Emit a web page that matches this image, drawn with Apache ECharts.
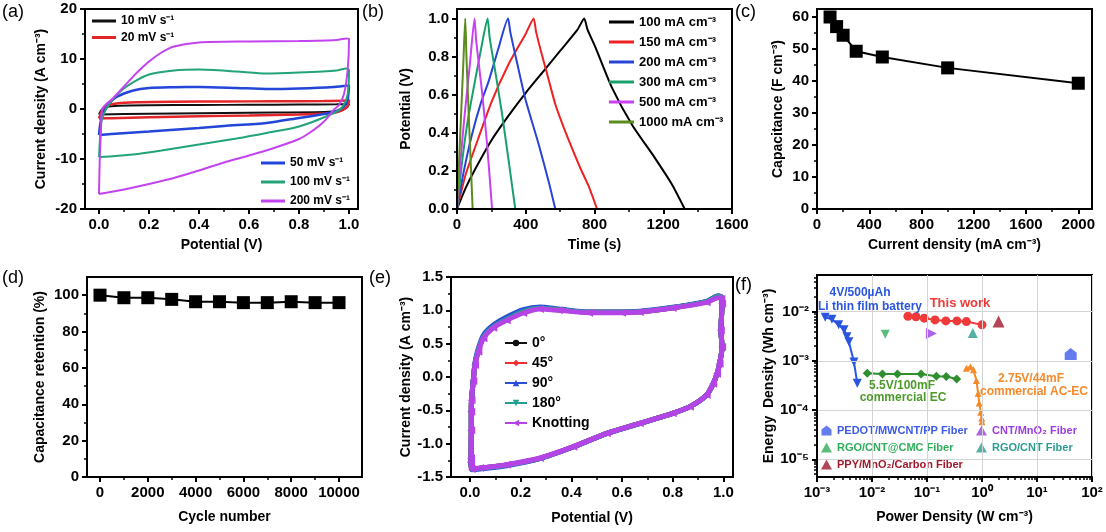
<!DOCTYPE html>
<html><head><meta charset="utf-8">
<script src="https://cdn.jsdelivr.net/npm/echarts@6/dist/echarts.min.js"></script>
<style>html,body{margin:0;padding:0;background:#fff}#c{width:1106px;height:532px}</style>
</head><body><div id="c"></div>
<script>
const FONT = '"Liberation Sans", Arial, sans-serif';

// ---------- (a) CV at different scan rates: [V, A cm-3] ----------
const cv10 = [[0,-1.1],[0.01,-0.2],[0.03,0.4],[0.08,0.65],[0.2,0.75],[0.4,0.8],[0.6,0.85],[0.8,0.9],[0.95,0.95],[1.0,1.0],[0.99,0.2],[0.96,-0.4],[0.9,-0.6],[0.7,-0.7],[0.5,-0.8],[0.3,-0.9],[0.1,-1.0],[0,-1.1]];
const cv20 = [[0,-1.9],[0.01,-0.6],[0.03,0.6],[0.07,1.1],[0.15,1.35],[0.3,1.45],[0.5,1.5],[0.7,1.55],[0.9,1.6],[0.99,1.7],[1.0,1.8],[0.995,0.6],[0.97,-0.3],[0.93,-0.8],[0.8,-1.1],[0.6,-1.3],[0.4,-1.45],[0.2,-1.65],[0.05,-1.85],[0,-1.9]];
const cv50 = [[0,-5.2],[0.005,-3],[0.015,-1],[0.04,1],[0.07,2.4],[0.137,3.7],[0.2,4.2],[0.3,4.35],[0.4,4.4],[0.55,4.2],[0.67,4.0],[0.8,4.1],[0.94,4.4],[1.0,4.7],[0.995,2],[0.98,0.5],[0.95,-0.4],[0.9,-1.0],[0.8,-1.8],[0.67,-2.8],[0.5,-3.4],[0.4,-3.8],[0.2,-4.5],[0.05,-5.0],[0,-5.2]];
const cv100 = [[0,-9.6],[0.004,-6],[0.012,-2],[0.044,1.2],[0.11,4.5],[0.2,6.9],[0.3,7.7],[0.4,7.9],[0.55,7.5],[0.67,7.1],[0.8,7.3],[0.95,7.7],[0.99,8.1],[1.0,7.8],[0.995,3],[0.975,0.5],[0.94,-0.8],[0.8,-3.5],[0.67,-4.8],[0.55,-5.9],[0.4,-7.1],[0.25,-8.3],[0.137,-9.1],[0.04,-9.5],[0,-9.6]];
const cv200 = [[0,-17],[0.003,-10],[0.008,-4],[0.013,0],[0.053,2.0],[0.1,4.5],[0.15,7.2],[0.2,9.5],[0.25,11.3],[0.3,12.5],[0.4,13.3],[0.6,13.5],[0.8,13.6],[0.95,13.8],[0.99,14.1],[1.0,14.0],[0.995,8],[0.98,3],[0.96,0.8],[0.94,-0.1],[0.9,-2.5],[0.85,-4.5],[0.8,-6],[0.7,-7.8],[0.6,-9.3],[0.5,-10.7],[0.4,-12.3],[0.3,-13.8],[0.2,-15],[0.1,-16.1],[0,-17]];

// ---------- (b) GCD: [s, V] ----------
const gcd100 = [[0,0],[50,0.11],[100,0.2],[200,0.36],[300,0.49],[400,0.61],[500,0.72],[600,0.83],[700,0.94],[740,1.0],[760,0.94],[805,0.85],[900,0.64],[1020,0.44],[1150,0.27],[1250,0.13],[1325,0]];
const gcd150 = [[0,0],[50,0.18],[100,0.31],[200,0.56],[300,0.76],[400,0.92],[446,1.0],[460,0.93],[494,0.81],[530,0.69],[572,0.55],[620,0.43],[669,0.32],[720,0.21],[766,0.12],[815,0]];
const gcd200 = [[0,0],[40,0.2],[87,0.39],[140,0.56],[184,0.67],[240,0.84],[297,1.0],[310,0.93],[339,0.81],[397,0.58],[475,0.34],[533,0.145],[572,0]];
const gcd300 = [[0,0],[30,0.25],[60,0.45],[100,0.65],[140,0.84],[178,1.0],[190,0.9],[223,0.72],[262,0.5],[301,0.25],[339,0]];
const gcd500 = [[0,0],[20,0.25],[45,0.5],[75,0.76],[102,1.0],[112,0.88],[145,0.62],[175,0.34],[204,0]];
const gcd1000 = [[0,0],[12,0.25],[25,0.52],[37,0.77],[48,1.0],[55,0.8],[68,0.5],[80,0.24],[91,0]];

// ---------- (c) capacitance vs current density ----------
const capCurrent = [100,150,200,300,500,1000,2000];
const capValue = [60,57,54.3,49.3,47.5,44.1,39.3];

// ---------- (d) cycling ----------
const cycles = [0,1000,2000,3000,4000,5000,6000,7000,8000,9000,10000];
const retention = [100,98.6,98.6,97.7,96.4,96.4,95.9,95.9,96.4,95.9,95.9];

// ---------- (e) CV under bending: [V, A cm-3] ----------
const eLoopBase = [[0.004,-1.30],[0.004,-1.22],[0.005,-0.8],[0.005,-0.55],[0.006,-0.35],[0.013,-0.05],[0.02,0.2],[0.033,0.4],[0.053,0.6],[0.092,0.75],[0.145,0.865],[0.21,0.98],[0.276,1.03],[0.35,1.01],[0.47,0.97],[0.6,0.97],[0.67,0.98],[0.8,1.04],[0.934,1.13],[0.98,1.21],[0.992,1.2],[0.995,1.1],[0.99,0.7],[0.995,0.45],[0.985,0.2],[0.975,0.05],[0.96,-0.1],[0.934,-0.27],[0.868,-0.445],[0.8,-0.545],[0.67,-0.695],[0.54,-0.845],[0.408,-1.045],[0.276,-1.22],[0.145,-1.32],[0.04,-1.37],[0.007,-1.385],[0.004,-1.30]];
const eLoop90 = [[0.004,-1.30],[0.004,-1.22],[0.005,-0.8],[0.005,-0.55],[0.006,-0.35],[0.013,-0.04],[0.02,0.22],[0.033,0.43],[0.053,0.63],[0.092,0.78],[0.145,0.9],[0.21,1.01],[0.276,1.05],[0.35,1.02],[0.47,0.975],[0.6,0.975],[0.67,0.985],[0.8,1.045],[0.934,1.135],[0.98,1.22],[0.992,1.2],[0.995,1.1],[0.99,0.7],[0.995,0.45],[0.985,0.2],[0.975,0.05],[0.96,-0.1],[0.934,-0.27],[0.868,-0.445],[0.8,-0.545],[0.67,-0.7],[0.54,-0.85],[0.408,-1.05],[0.276,-1.225],[0.145,-1.33],[0.04,-1.38],[0.007,-1.39],[0.004,-1.30]];
const eLoopKnot = [[0.004,-1.28],[0.004,-1.22],[0.005,-0.8],[0.005,-0.52],[0.006,-0.35],[0.013,-0.06],[0.02,0.18],[0.033,0.38],[0.053,0.58],[0.092,0.74],[0.145,0.85],[0.21,0.96],[0.276,1.02],[0.35,1.0],[0.47,0.965],[0.6,0.965],[0.67,0.975],[0.8,1.035],[0.934,1.12],[0.98,1.19],[0.992,1.17],[0.995,1.1],[0.99,0.7],[0.995,0.45],[0.985,0.2],[0.975,0.05],[0.96,-0.1],[0.934,-0.27],[0.868,-0.445],[0.8,-0.545],[0.67,-0.695],[0.54,-0.845],[0.408,-1.045],[0.276,-1.215],[0.145,-1.315],[0.04,-1.365],[0.007,-1.38],[0.004,-1.28]];

// ---------- (f) Ragone plot: [W cm-3, Wh cm-3] ----------
const batteryP = [1.41e-3,1.87e-3,2.48e-3,3.1e-3,3.5e-3,3.8e-3,4.7e-3,5.4e-3];
const batteryE = [7.7e-3,7.0e-3,5.4e-3,4.3e-3,3.1e-3,2.45e-3,9.5e-4,3.5e-4];
const thisWorkP = [0.045,0.063,0.089,0.14,0.22,0.35,0.52,1.0];
const thisWorkE = [8.1e-3,7.9e-3,7.4e-3,6.8e-3,6.5e-3,6.5e-3,6.3e-3,5.4e-3];
const ecP = [0.0082,0.0155,0.029,0.078,0.148,0.224,0.347];
const ecE = [5.6e-4,5.4e-4,5.4e-4,5.4e-4,4.9e-4,4.8e-4,4.3e-4];
const acP = [0.52,0.62,0.70,0.79,0.85,0.89,0.95,0.99,1.0];
const acE = [7.1e-4,7.6e-4,6.6e-4,4.0e-4,2.2e-4,1.4e-4,9e-5,6.8e-5,5.8e-5];
const pedotPt = [41, 1.38e-3];
const cntMnPt = [0.12, 3.6e-3];
const rgoCmcPt = [0.0174, 3.5e-3];
const rgoCntPt = [0.68, 3.7e-3];
const ppyPt = [2.0, 6.3e-3];

// ---------- tick labels ----------
const ticksA_x = [0,0.2,0.4,0.6,0.8,1.0], minorA_x = [0.1,0.3,0.5,0.7,0.9];
const ticksA_y = [-20,-10,0,10,20], minorA_y = [-15,-5,5,15];
const ticksB_x = [0,400,800,1200,1600], minorB_x = [200,600,1000,1400];
const ticksB_y = [0,0.2,0.4,0.6,0.8,1.0], minorB_y = [0.1,0.3,0.5,0.7,0.9];
const ticksC_x = [0,400,800,1200,1600,2000], minorC_x = [200,600,1000,1400,1800];
const ticksC_y = [0,10,20,30,40,50,60], minorC_y = [5,15,25,35,45,55];
const ticksD_x = [0,2000,4000,6000,8000,10000], minorD_x = [1000,3000,5000,7000,9000];
const ticksD_y = [0,20,40,60,80,100], minorD_y = [10,30,50,70,90];
const ticksE_x = [0,0.2,0.4,0.6,0.8,1.0], minorE_x = [0.1,0.3,0.5,0.7,0.9];
const ticksE_y = [-1.5,-1.0,-0.5,0,0.5,1.0,1.5], minorE_y = [-1.25,-0.75,-0.25,0.25,0.75,1.25];
const ticksF_x = [1e-3,1e-2,1e-1,1e0,1e1,1e2];
const ticksF_y = [1e-5,1e-4,1e-3,1e-2];

const SUP = {'-':'⁻','0':'⁰','1':'¹','2':'²','3':'³','4':'⁴','5':'⁵','6':'⁶','7':'⁷','8':'⁸','9':'⁹'};
function pow10Label(v){ const e = Math.round(Math.log10(v)); return '10' + String(e).split('').map(c=>SUP[c]).join(''); }
function logMinor(lo, hi){ const out=[]; for(let e=lo;e<hi;e++){ for(let k=2;k<10;k++) out.push(k*Math.pow(10,e)); } return out; }

function axisPair(gi, dim, cfg){
  const pos = dim==='x' ? 'bottom' : 'left';
  const type = cfg.type || 'value';
  const major = {
    gridIndex: gi, type, min: cfg.min, max: cfg.max, position: pos,
    axisLine: {show:true, onZero:false, lineStyle:{color:'#000', width:2}},
    axisTick: {show:true, inside:false, length:5, customValues: cfg.ticks, lineStyle:{color:'#000', width:2}},
    axisLabel: {show:true, customValues: cfg.ticks, formatter: cfg.fmt, color:'#000', fontSize:15, fontWeight:'bold', fontFamily: FONT, margin: cfg.margin || 8},
    splitLine: cfg.split ? {show:true, lineStyle:{color:'#d4d4d4', width:1}} : {show:false},
    name: cfg.name, nameLocation:'middle', nameGap: cfg.nameGap,
    nameTextStyle: {color:'#000', fontSize:14, fontWeight:'bold', fontFamily: FONT},
    z: 5
  };
  const minor = {
    gridIndex: gi, type, min: cfg.min, max: cfg.max, position: pos,
    axisLine: {show:false, onZero:false},
    axisTick: {show:true, inside:false, length:3, customValues: cfg.minor, lineStyle:{color:'#000', width:1.5}},
    axisLabel: {show:false}, splitLine: {show:false}
  };
  return [major, minor];
}
const f1 = v => v.toFixed(1);
const f0 = v => String(Math.round(v));

const grids = [
  {left:85, top:9, width:273, height:200},
  {left:457, top:9, width:275, height:200},
  {left:817, top:9, width:275, height:200},
  {left:87, top:277, width:275, height:200},
  {left:451, top:277, width:282, height:200},
  {left:817, top:275, width:275, height:202}
].map(g => Object.assign(g, {show:true, borderColor:'#000', borderWidth:2, backgroundColor:'transparent'}));

const xAxes = [].concat(
  axisPair(0,'x',{min:-0.056,max:1.036,ticks:ticksA_x,minor:minorA_x,fmt:f1,name:'Potential (V)',nameGap:29}),
  axisPair(1,'x',{min:0,max:1600,ticks:ticksB_x,minor:minorB_x,fmt:f0,name:'Time (s)',nameGap:29}),
  axisPair(2,'x',{min:0,max:2105,ticks:ticksC_x,minor:minorC_x,fmt:f0,name:'Current density (mA cm⁻³)',nameGap:29}),
  axisPair(3,'x',{min:-544,max:10962,ticks:ticksD_x,minor:minorD_x,fmt:f0,name:'Cycle number',nameGap:33}),
  axisPair(4,'x',{min:-0.075,max:1.038,ticks:ticksE_x,minor:minorE_x,fmt:f1,name:'Potential (V)',nameGap:34}),
  axisPair(5,'x',{type:'log',min:1e-3,max:1e2,ticks:ticksF_x,minor:logMinor(-3,2),fmt:pow10Label,name:'Power Density (W cm⁻³)',nameGap:33,split:true})
);
const yAxes = [].concat(
  axisPair(0,'y',{min:-20,max:20,ticks:ticksA_y,minor:minorA_y,fmt:f0,name:'Current density (A cm⁻³)',nameGap:37}),
  axisPair(1,'y',{min:0,max:1.05,ticks:ticksB_y,minor:minorB_y,fmt:f1,name:'Potential (V)',nameGap:44}),
  axisPair(2,'y',{min:0,max:62.5,ticks:ticksC_y,minor:minorC_y,fmt:f0,name:'Capacitance (F cm⁻³)',nameGap:32}),
  axisPair(3,'y',{min:0,max:110,ticks:ticksD_y,minor:minorD_y,fmt:f0,name:'Capacitance retention (%)',nameGap:40}),
  axisPair(4,'y',{min:-1.5,max:1.5,ticks:ticksE_y,minor:minorE_y,fmt:f1,name:'Current density (A cm⁻³)',nameGap:36}),
  axisPair(5,'y',{type:'log',min:Math.pow(10,-5.36),max:Math.pow(10,-1.254),ticks:ticksF_y,minor:logMinor(-6,-1),fmt:pow10Label,name:'Energy  Density (Wh cm⁻³)',nameGap:40,split:true})
);

const zip = (xs, ys) => xs.map((x,i)=>[x, ys[i]]);
function line(gi, name, data, color, extra){
  return Object.assign({type:'line', name, xAxisIndex:2*gi, yAxisIndex:2*gi, data,
    showSymbol:false, symbol:'none', smooth:0.25, lineStyle:{color, width:2}, itemStyle:{color}, z:3}, extra||{});
}

const series = [
  line(0,'10 mV s⁻¹',cv10,'#111111'),
  line(0,'20 mV s⁻¹',cv20,'#e3262a',{lineStyle:{color:'#e3262a',width:2.5}}),
  line(0,'50 mV s⁻¹',cv50,'#2346d8',{lineStyle:{color:'#2346d8',width:2.5}}),
  line(0,'100 mV s⁻¹',cv100,'#22a37a'),
  line(0,'200 mV s⁻¹',cv200,'#c443f0'),

  line(1,'100 mA cm⁻³',gcd100,'#000000',{smooth:0.2}),
  line(1,'150 mA cm⁻³',gcd150,'#ee2222',{smooth:0.2}),
  line(1,'200 mA cm⁻³',gcd200,'#2744d6',{smooth:0.2}),
  line(1,'300 mA cm⁻³',gcd300,'#17a06c',{smooth:0.2}),
  line(1,'500 mA cm⁻³',gcd500,'#c940f0',{smooth:0.2}),
  line(1,'1000 mA cm⁻³',gcd1000,'#5b8c1e',{smooth:0.2}),

  line(2,'cap',zip(capCurrent,capValue),'#000',{smooth:false,showSymbol:true,symbol:'rect',symbolSize:13}),
  line(3,'ret',zip(cycles,retention),'#000',{smooth:false,showSymbol:true,symbol:'rect',symbolSize:13}),

  line(4,'0°',eLoopBase,'#111111',{symbol:'circle',symbolSize:7,lineStyle:{color:'#111',width:5}}),
  line(4,'45°',eLoopBase,'#f03030',{symbol:'diamond',symbolSize:8,lineStyle:{color:'#f03030',width:5}}),
  line(4,'90°',eLoop90,'#2850d8',{symbol:'triangle',symbolSize:8,lineStyle:{color:'#2850d8',width:5}}),
  line(4,'180°',eLoopBase,'#20a090',{symbol:'triangle',symbolRotate:180,symbolSize:8,lineStyle:{color:'#20a090',width:5}}),
  line(4,'Knotting',eLoopKnot,'#b444e6',{symbol:'triangle',symbolRotate:90,symbolSize:8,showSymbol:true,lineStyle:{color:'#b444e6',width:5},z:4}),

  line(5,'battery',zip(batteryP,batteryE),'#2a55e0',{smooth:false,showSymbol:true,symbol:'triangle',symbolRotate:180,symbolSize:9}),
  line(5,'This work',zip(thisWorkP,thisWorkE),'#f03a3a',{smooth:false,showSymbol:true,symbol:'circle',symbolSize:9}),
  line(5,'EC',zip(ecP,ecE),'#2f8f2f',{smooth:false,showSymbol:true,symbol:'diamond',symbolSize:9}),
  line(5,'AC-EC',zip(acP,acE),'#f58a2a',{smooth:false,showSymbol:true,symbol:'triangle',symbolSize:7}),
  {type:'scatter',name:'PEDOT/MWCNT/PP Fiber',xAxisIndex:10,yAxisIndex:10,data:[pedotPt],symbol:'path://M0,4 L5,0 L10,4 L10,10 L0,10 Z',symbolSize:12,itemStyle:{color:'#3d5be8'}},
  {type:'scatter',name:'CNT/MnO₂ Fiber',xAxisIndex:10,yAxisIndex:10,data:[cntMnPt],symbol:'triangle',symbolRotate:-90,symbolSize:11,itemStyle:{color:'#9a3de0'}},
  {type:'scatter',name:'RGO/CNT@CMC Fiber',xAxisIndex:10,yAxisIndex:10,data:[rgoCmcPt],symbol:'triangle',symbolRotate:180,symbolSize:9,itemStyle:{color:'#2fae5a'}},
  {type:'scatter',name:'RGO/CNT Fiber',xAxisIndex:10,yAxisIndex:10,data:[rgoCntPt],symbol:'triangle',symbolSize:10,itemStyle:{color:'#2a9d8f'}},
  {type:'scatter',name:'PPY/MnO₂/Carbon Fiber',xAxisIndex:10,yAxisIndex:10,data:[ppyPt],symbol:'triangle',symbolSize:12,itemStyle:{color:'#a0182c'}}
];

const legTxt = (size) => ({color:'#000', fontSize:size, fontWeight:'bold', fontFamily:FONT, lineHeight:14});
const legends = [
  {data:['10 mV s⁻¹','20 mV s⁻¹'], left:92, top:14, orient:'vertical', itemGap:2.5, itemWidth:24, itemHeight:3, icon:'rect', textStyle:legTxt(12)},
  {data:['50 mV s⁻¹','100 mV s⁻¹','200 mV s⁻¹'], left:261, top:156, orient:'vertical', itemGap:5, itemWidth:24, itemHeight:3, icon:'rect', textStyle:legTxt(12)},
  {data:['100 mA cm⁻³','150 mA cm⁻³','200 mA cm⁻³','300 mA cm⁻³','500 mA cm⁻³','1000 mA cm⁻³'], left:609, top:15, orient:'vertical', itemGap:6, itemWidth:25, itemHeight:3, icon:'rect', textStyle:legTxt(13)},
  {data:['0°','45°','90°','180°','Knotting'], left:504, top:336, orient:'vertical', itemGap:6, itemWidth:22, itemHeight:8, textStyle:legTxt(14)},
  {data:[{name:'PEDOT/MWCNT/PP Fiber',textStyle:{color:'#3d5be8'}},{name:'RGO/CNT@CMC Fiber',textStyle:{color:'#2fae5a'}},{name:'PPY/MnO₂/Carbon Fiber',textStyle:{color:'#a0182c'}}], left:821, top:424, orient:'vertical', itemGap:4, itemWidth:11, itemHeight:10, textStyle:{fontSize:11, fontWeight:'bold', fontFamily:FONT, lineHeight:13}},
  {data:[{name:'CNT/MnO₂ Fiber',textStyle:{color:'#9a3de0'}},{name:'RGO/CNT Fiber',textStyle:{color:'#2a9d8f'}}], left:976, top:424, orient:'vertical', itemGap:4, itemWidth:11, itemHeight:10, textStyle:{fontSize:11, fontWeight:'bold', fontFamily:FONT, lineHeight:13}}
];
legends.forEach(l => { l.padding = 0; l.selectedMode = false; });

const panelTxt = (t, x, y) => ({type:'text', left:x, top:y, style:{text:t, fontSize:18, fontFamily:FONT, fill:'#000'}});
const annTxt = (t, x, y, c, s) => ({type:'text', x, y, style:{text:t, fontSize:s||12, fontWeight:'bold', fontFamily:FONT, fill:c, align:'center', verticalAlign:'middle'}, z:10});
const graphic = [
  panelTxt('(a)',2,3), panelTxt('(b)',362,3), panelTxt('(c)',735,3),
  panelTxt('(d)',2,269), panelTxt('(e)',369,269), panelTxt('(f)',735,276),
  annTxt('4V/500µAh',860,293,'#2a55e0'), annTxt('Li thin film battery',870,307,'#2a55e0'),
  annTxt('This work',960,303,'#f03a3a',13),
  annTxt('5.5V/100mF',902,386,'#4d9a2a'), annTxt('commercial EC',903,398,'#4d9a2a'),
  annTxt('2.75V/44mF',1031,379,'#f58a2a'), annTxt('commercial AC-EC',1034,392,'#f58a2a')
];

const chart = echarts.init(document.getElementById('c'), null, {renderer:'canvas'});
chart.setOption({animation:false, backgroundColor:'#fff', grid:grids, xAxis:xAxes, yAxis:yAxes, series, legend:legends, graphic});
</script></body></html>
